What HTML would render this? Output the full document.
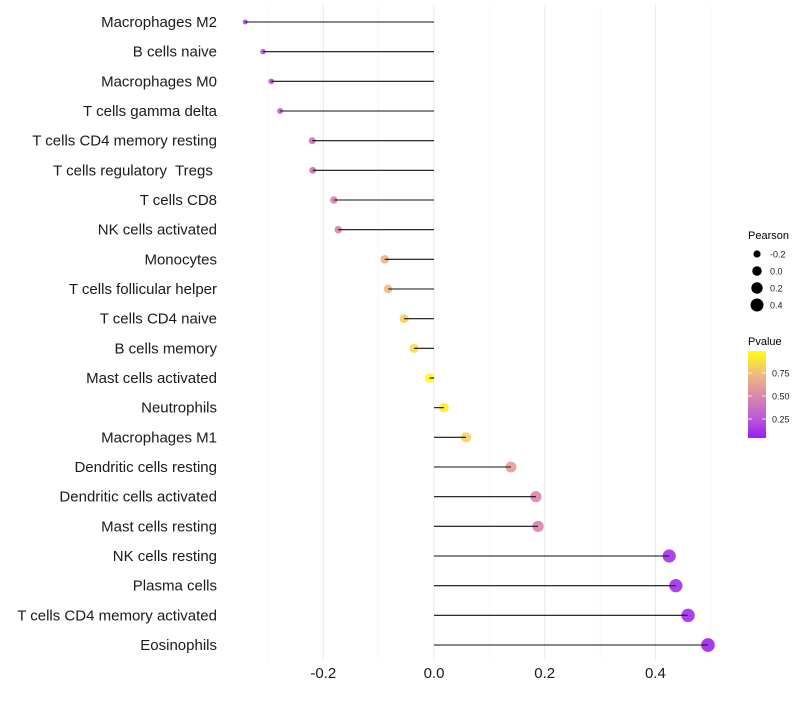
<!DOCTYPE html>
<html><head><meta charset="utf-8"><style>
html,body{margin:0;padding:0;background:#fff;}
svg text{font-family:"Liberation Sans",sans-serif;}
</style></head><body>
<svg id="chart" width="800" height="700" viewBox="0 0 800 700">
<defs>
<linearGradient id="pgrad" x1="0" y1="1" x2="0" y2="0">
<stop offset="0" stop-color="#9B1EF5"/>
<stop offset="0.25" stop-color="#C05ED2"/>
<stop offset="0.5" stop-color="#DD8AA8"/>
<stop offset="0.75" stop-color="#F0BE7C"/>
<stop offset="1" stop-color="#FFFF10"/>
</linearGradient>
</defs>
<g id="grid"></g>
<g id="marks"></g>
<g id="ylabels"></g>
<g id="xlabels"></g>
<g>
<text x="748" y="239" font-size="11" fill="#000">Pearson</text>
<g id="sizeLegend"></g>
</g>
<g>
<text x="748" y="345" font-size="11" fill="#000">Pvalue</text>
<rect x="748" y="351" width="18" height="87" fill="url(#pgrad)"/>
<g id="colorTicks"></g>
</g>
</svg>
<script>
const categories=["Macrophages M2","B cells naive","Macrophages M0","T cells gamma delta","T cells CD4 memory resting","T cells regulatory  Tregs\u00a0","T cells CD8","NK cells activated","Monocytes","T cells follicular helper","T cells CD4 naive","B cells memory","Mast cells activated","Neutrophils","Macrophages M1","Dendritic cells resting","Dendritic cells activated","Mast cells resting","NK cells resting","Plasma cells","T cells CD4 memory activated","Eosinophils"];
const pearson=[-0.341,-0.309,-0.294,-0.278,-0.220,-0.219,-0.181,-0.173,-0.089,-0.083,-0.054,-0.036,-0.008,0.018,0.058,0.139,0.184,0.188,0.425,0.437,0.459,0.495];
const pvalue=[0.15,0.2,0.22,0.25,0.35,0.35,0.45,0.47,0.7,0.72,0.82,0.86,0.98,0.93,0.82,0.58,0.47,0.46,0.07,0.06,0.05,0.03];
const xTicks=[-0.2,0,0.2,0.4];
const xTickLabels=["-0.2","0.0","0.2","0.4"];
const xMinor=[-0.3,-0.1,0.1,0.3,0.5];
const sizeLegendVals=[-0.2,0,0.2,0.4];
const colorTickVals=[0.25,0.5,0.75];

const NS="http://www.w3.org/2000/svg";
const x=v=>434+v*553.5;
const y=i=>22+i*29.667;
const r=v=>Math.sqrt(Math.max(22.7+48.8*v,2));
const pY=p=>442-p*92;
const stops=[[0,[155,30,245]],[0.25,[192,94,210]],[0.5,[221,138,168]],[0.75,[240,190,124]],[1,[255,255,16]]];
function col(p){p=Math.max(0,Math.min(1,p));for(let k=1;k<stops.length;k++){if(p<=stops[k][0]){const a=stops[k-1],b=stops[k];const t=(p-a[0])/(b[0]-a[0]);const c=a[1].map((v,j)=>Math.round(v+(b[1][j]-v)*t));return `rgb(${c.join(',')})`;}}return 'rgb(255,255,16)';}
function mk(tag,attrs,parent){const e=document.createElementNS(NS,tag);for(const k in attrs)e.setAttribute(k,attrs[k]);parent.appendChild(e);return e;}

const grid=document.getElementById('grid');
xMinor.forEach(v=>{const l=mk('line',{x1:x(v),x2:x(v),y1:5,y2:660,stroke:'#f2f2f2','stroke-width':0.6},grid);

});
xTicks.forEach(v=>{const l=mk('line',{x1:x(v),x2:x(v),y1:5,y2:660,stroke:'#ebebeb','stroke-width':1.1},grid);

});

const marks=document.getElementById('marks');
const ylab=document.getElementById('ylabels');
categories.forEach((c,i)=>{
 const cy=y(i);
 const pt=mk('circle',{cx:x(pearson[i]),cy:cy,r:r(pearson[i]),fill:col(pvalue[i]),'fill-opacity':0.9},marks);
 
 
 const ln=mk('line',{x1:x(0),x2:x(pearson[i]),y1:cy,y2:cy,stroke:'#111','stroke-width':1.1},marks);
 
 
 const t=mk('text',{x:217,y:cy+5,'font-size':15,'text-anchor':'end',fill:'#1a1a1a'},ylab);
 t.setAttribute('xml:space','preserve');
 t.style.whiteSpace='pre';
 t.textContent=c;
 
 
});
const xl=document.getElementById('xlabels');
xTicks.forEach((v,k)=>{const t=mk('text',{x:x(v),y:678,'font-size':15,'text-anchor':'middle',fill:'#1a1a1a'},xl);
t.textContent=xTickLabels[k];

});

const sl=document.getElementById('sizeLegend');
sizeLegendVals.forEach((v,k)=>{const cy=254+k*17;
const c=mk('circle',{cx:757,cy:cy,r:r(v),fill:'#000'},sl);


const t=mk('text',{x:770,y:cy+3.5,'font-size':9,fill:'#1a1a1a'},sl);
t.textContent=v===0?'0.0':v.toFixed(1);

});

const ct=document.getElementById('colorTicks');
colorTickVals.forEach(v=>{const yy=pY(v);
const l1=mk('line',{x1:748,x2:752,y1:yy,y2:yy,stroke:'#fff','stroke-width':0.8},ct);


const l2=mk('line',{x1:762,x2:766,y1:yy,y2:yy,stroke:'#fff','stroke-width':0.8},ct);


const t=mk('text',{x:772,y:yy+3.5,'font-size':9,fill:'#1a1a1a'},ct);
t.textContent=v.toFixed(2);

});
</script>
</body></html>
